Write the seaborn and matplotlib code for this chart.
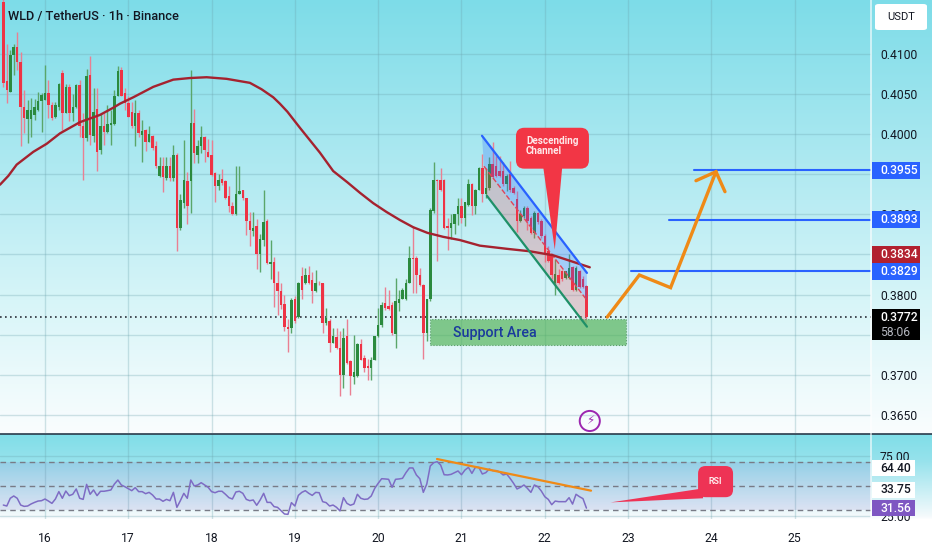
import numpy as np
import pandas as pd
import seaborn as sns
import matplotlib.pyplot as plt
from matplotlib.lines import Line2D
from matplotlib.patches import FancyBboxPatch, Polygon, Rectangle

# hourly candles, first one at day 15.5
opens = [.4165,.4066,.4053,.4099,.4109,.4090,.4034,.4019,.4019,.4024,.4030,.4041,.4043,.4051,.4037,.4022,.4034,.4076,.4027,.4059,
         .4027,.4034,.4061,.4010,.3995,.4074,.3998,.4031,.3980,.4010,.4003,.4012,.4013,.4048,.4080,.4051,.4039,.4028,.4010,.4026,
         .3999,.4005,.3990,.3998,.3985,.3948,.3960,.3945,.3960,.3945,.3974,.3883,.3914,.3941,.3941,.4014,.3974,.3985,.3997,.3978,
         .3974,.3951,.3936,.3944,.3942,.3923,.3910,.3900,.3926,.3930,.3920,.3892,.3879,.3885,.3850,.3868,.3892,.3838,.3841,.3815,
         .3805,.3788,.3760,.3758,.3794,.3772,.3823,.3815,.3825,.3818,.3804,.3815,.3814,.3765,.3767,.3740,.3747,.3733,.3700,.3748,
         .3717,.3697,.3698,.3738,.3721,.3711,.3708,.3719,.3748,.3762,.3790,.3786,.3787,.3751,.3790,.3795,.3794,.3815,.3846,.3846,
         .3825,.3812,.3752,.3794,.3904,.3943,.3943,.3943,.3886,.3883,.3888,.3900,.3910,.3895,.3912,.3938,.3910,.3931,.3958,.3925,
         .3933,.3963,.3960,.3954,.3954,.3938,.3950,.3933,.3919,.3892,.3898,.3908,.3896,.3877,.3902,.3892,.3873,.3854,.3848,.3815,
         .3825,.3829,.3821,.3821,.3835,.3806,.3830,.3819,.3811]
closes = [.4064,.4055,.4099,.4109,.4090,.4034,.4020,.4030,.4030,.4034,.4041,.4049,.4051,.4037,.4020,.4036,.4063,.4027,.4059,.4027,
          .4034,.4061,.4010,.3995,.4073,.3999,.4028,.3978,.4010,.4003,.4013,.4014,.4048,.4079,.4048,.4039,.4022,.4010,.4026,.4001,
          .4004,.3990,.4000,.3983,.3960,.3960,.3947,.3960,.3945,.3974,.3883,.3918,.3943,.3911,.4014,.3976,.3985,.3997,.3980,.3972,
          .3949,.3936,.3943,.3939,.3920,.3910,.3900,.3926,.3929,.3920,.3892,.3880,.3883,.3850,.3869,.3891,.3839,.3840,.3815,.3805,
          .3787,.3760,.3757,.3793,.3767,.3815,.3806,.3825,.3815,.3804,.3814,.3814,.3765,.3771,.3740,.3748,.3733,.3700,.3746,.3715,
          .3698,.3704,.3738,.3719,.3708,.3708,.3719,.3748,.3762,.3787,.3783,.3782,.3752,.3792,.3795,.3806,.3815,.3846,.3844,.3825,
          .3812,.3752,.3794,.3906,.3943,.3942,.3931,.3883,.3883,.3889,.3900,.3910,.3895,.3915,.3938,.3910,.3931,.3958,.3925,.3933,
          .3963,.3946,.3948,.3948,.3938,.3948,.3931,.3927,.3892,.3900,.3908,.3892,.3877,.3902,.3890,.3873,.3850,.3842,.3825,.3826,
          .3815,.3819,.3829,.3833,.3806,.3833,.3810,.3810,.3772]
highs = [.4185,.4113,.4105,.4113,.4127,.4103,.4055,.4043,.4045,.4044,.4052,.4051,.4086,.4068,.4040,.4040,.4064,.4080,.4062,.4062,
         .4050,.4063,.4068,.4026,.4081,.4098,.4057,.4057,.4026,.4026,.4036,.4030,.4055,.4085,.4084,.4058,.4048,.4040,.4042,.4030,
         .4018,.4007,.4010,.3999,.3992,.3972,.3972,.3972,.3972,.3987,.3977,.3926,.3993,.3953,.4080,.4031,.3993,.4010,.3998,.3994,
         .3993,.3953,.3950,.3956,.3943,.3935,.3915,.3960,.3960,.3931,.3921,.3903,.3903,.3894,.3876,.3931,.3894,.3868,.3847,.3830,
         .3815,.3800,.3769,.3796,.3798,.3816,.3835,.3833,.3836,.3828,.3831,.3817,.3815,.3783,.3770,.3758,.3758,.3754,.3758,.3769,
         .3718,.3750,.3739,.3745,.3725,.3720,.3722,.3748,.3783,.3791,.3810,.3806,.3791,.3821,.3806,.3808,.3820,.3860,.3885,.3848,
         .3833,.3813,.3795,.3908,.3965,.3944,.3958,.3944,.3895,.3900,.3900,.3921,.3921,.3916,.3944,.3939,.3932,.3959,.3975,.3958,
         .3971,.3990,.3973,.3973,.3965,.3950,.3967,.3935,.3929,.3906,.3910,.3910,.3898,.3904,.3903,.3894,.3875,.3860,.3852,.3844,
         .3832,.3831,.3830,.3850,.3836,.3836,.3831,.3823,.3812]
lows = [.4059,.4039,.4052,.4074,.4080,.3985,.4001,.3989,.3997,.4018,.4029,.4003,.4043,.4020,.4018,.4020,.4030,.4005,.4026,.4017,
        .4017,.4033,.3997,.3943,.3992,.3987,.3990,.3954,.3975,.3987,.4002,.3987,.4012,.4047,.4047,.4030,.4021,.4008,.3985,.3996,
        .3965,.3979,.3990,.3980,.3958,.3946,.3928,.3943,.3942,.3942,.3854,.3881,.3908,.3888,.3902,.3964,.3964,.3976,.3965,.3971,
        .3948,.3916,.3931,.3937,.3919,.3903,.3899,.3899,.3925,.3918,.3874,.3860,.3873,.3832,.3828,.3860,.3838,.3820,.3785,.3775,
        .3782,.3754,.3729,.3752,.3765,.3771,.3794,.3813,.3813,.3790,.3803,.3812,.3752,.3762,.3729,.3739,.3732,.3673,.3683,.3713,
        .3675,.3689,.3697,.3718,.3704,.3694,.3694,.3718,.3747,.3760,.3781,.3781,.3750,.3733,.3780,.3794,.3793,.3814,.3802,.3802,
        .3811,.3720,.3742,.3792,.3902,.3842,.3929,.3882,.3856,.3869,.3875,.3887,.3889,.3886,.3911,.3899,.3900,.3930,.3915,.3921,
        .3931,.3945,.3946,.3946,.3936,.3929,.3928,.3925,.3878,.3890,.3896,.3881,.3875,.3870,.3888,.3870,.3840,.3840,.3820,.3800,
        .3813,.3817,.3819,.3820,.3805,.3805,.3808,.3808,.3769]

rsi_values = [34.1,33.3,39.7,41.6,39.7,34.1,33.0,33.3,35.0,36.3,37.4,37.7,39.1,37.4,35.5,39.1,45.2,39.7,45.7,41.9,
              43.0,47.4,39.7,38.8,51.2,43.0,46.6,41.9,45.5,45.5,46.0,46.6,51.5,54.8,50.7,49.3,47.7,46.0,48.5,45.2,
              45.2,43.5,44.6,42.4,39.1,39.1,37.2,38.8,37.7,44.6,32.2,37.7,43.8,39.7,54.8,49.9,50.7,52.6,50.7,48.8,
              45.2,44.3,45.5,45.5,43.0,40.2,39.1,44.9,45.5,43.8,38.8,37.7,38.3,33.9,38.3,43.8,36.3,36.3,32.8,32.2,
              29.4,26.7,26.4,36.1,33.3,42.1,44.6,46.0,43.8,42.1,44.6,44.3,36.9,36.1,33.3,34.1,32.2,29.2,40.2,35.5,
              33.9,35.0,43.0,39.7,38.8,39.1,41.6,47.9,52.1,55.9,55.7,55.4,48.8,55.4,55.7,56.2,60.9,64.8,64.8,59.0,
              55.9,44.6,51.5,66.4,69.2,70.0,67.2,59.2,59.0,59.5,60.9,62.3,59.2,63.1,65.3,60.3,65.3,65.3,59.8,60.9,
              63.9,62.6,62.6,61.5,59.0,59.8,56.2,52.1,47.4,48.8,50.7,47.9,44.6,50.7,49.3,45.7,41.0,38.8,34.4,37.4,
              36.9,36.9,36.9,40.2,34.9,43.0,41.0,39.4,31.56]

ma_days = [15.46,15.56,15.66,15.86,16.02,16.18,16.42,16.66,16.82,16.9,17.06,17.30,17.54,17.74,17.94,18.18,18.46,18.6,18.74,18.82,18.91,19.06,19.30,19.46,19.63,19.78,19.94,20.1,20.26,20.42,20.59,20.78,20.98,21.22,21.55,21.82,22.10,22.54]
ma_prices = [.3937,.3948,.3962,.3978,.3988,.4001,.4015,.4024,.4033,.4038,.4046,.4059,.4068,.4070,.4071,.4069,.4064,.4056,.4046,.4038,.4028,.4008,.3977,.3954,.3940,.3927,.3914,.3903,.3893,.3884,.3877,.3872,.3868,.3861,.3857,.3854,.3849,.3834]

price_ticks = [.3650,.3700,.3750,.3800,.3850,.3900,.3950,.4000,.4050,.4100]
price_tick_labels = ["0.3650","0.3700","","0.3800","","0.3900","","0.4000","0.4050","0.4100"]
day_ticks = [16,17,18,19,20,21,22,23,24,25]
rsi_ticks = [75,25]
rsi_dashed = [70,50,30]

current_price = .3772
targets = [.3955,.3893,.3829]
target_starts = [23.79,23.49,23.03]

channel_top = ([21.246,22.506],[.3998,.3827])
channel_mid = ([21.27,22.506],[.3960,.3793])
channel_low = ([21.306,22.506],[.3923,.3760])

path_days = [22.75,23.135,23.51,24.055]
path_prices = [.3772,.38244,.38086,.39532]
arrow_days = [23.815,24.055,24.163]
arrow_prices = [.3942,.39532,.39283]

support_days = (20.62,22.975)
support_prices = (.3737,.3770)

rsi_trend_days = [20.706,22.555]
rsi_trend_values = [72.2,46.0]

RED = "#f23645"
BLUE = "#2962ff"
ORANGE = "#ef8a17"
DARK = "#131722"

# colours down the picture, top to bottom (pixel row, colour)
bg_rows = [0,200,300,433,434,460,516,519,550]
bg_cols = [(125,220,232),(185,236,243),(215,245,248),(250,253,254),(128,222,232),(150,226,236),(245,250,252),(255,255,255),(255,255,255)]

sns.set_theme(style="whitegrid")
plt.rcParams["font.family"] = ["Roboto", "DejaVu Sans"]
plt.rcParams["grid.color"] = "#6ba3ad"
plt.rcParams["grid.alpha"] = 0.3
plt.rcParams["grid.linewidth"] = 1.0

W, H = 932, 550
fig = plt.figure(figsize=(W / 100, H / 100), dpi=100, facecolor="white")

bg = fig.add_axes([0, 0, 1, 1], zorder=-1)
rows = np.arange(H)
img = np.stack([np.interp(rows, bg_rows, [c[k] for c in bg_cols]) for k in range(3)], axis=1) / 255
bg.imshow(img[:, None, :], aspect="auto", extent=[0, W, H, 0])
bg.axis("off")

ax = fig.add_axes([0, 1 - 433 / H, 871 / W, 433 / H], facecolor="none")
rs = fig.add_axes([0, 1 - 519 / H, 871 / W, 85 / H], facecolor="none", sharex=ax)

# candles
df = pd.DataFrame({"open": opens, "high": highs, "low": lows, "close": closes})
df["day"] = 15.5 + df.index / 24
df["rsi"] = rsi_values
up = df["close"] >= df["open"]
for mask, body, wick in [(up, "#2b8a3e", "#5aa66a"), (~up, "#ee3345", "#ea7f92")]:
    part = df[mask]
    ax.vlines(part["day"], part["low"], part["high"], color=wick, lw=1.0, zorder=3)
    ax.bar(part["day"], (part["close"] - part["open"]).abs(), bottom=part[["open", "close"]].min(axis=1),
           width=0.03, color=body, lw=0, zorder=4)

sns.lineplot(x=ma_days, y=ma_prices, ax=ax, color="#a5222f", lw=1.7, zorder=6, estimator=None, sort=False)
ax.axhline(current_price, color="#2a2e39", lw=1.2, ls=(0, (1, 2)), zorder=2)

# channel
top_x, top_y = channel_top
mid_x, mid_y = channel_mid
low_x, low_y = channel_low
ax.add_patch(Polygon(list(zip(top_x + mid_x[::-1], top_y + mid_y[::-1])), fc="#2962ff", alpha=0.25, lw=0, zorder=5))
ax.add_patch(Polygon(list(zip(mid_x + low_x[::-1], mid_y + low_y[::-1])), fc="#f23645", alpha=0.22, lw=0, zorder=5))
ax.plot(mid_x, mid_y, color="#e0455a", lw=1, ls="--", zorder=5)
ax.plot(top_x, top_y, color=BLUE, lw=1.6, zorder=6)
ax.plot(low_x, low_y, color="#1f9068", lw=1.6, zorder=6)

# support area
ax.add_patch(Rectangle((support_days[0], support_prices[0]), support_days[1] - support_days[0],
                       support_prices[1] - support_prices[0], fc="#4caf50", ec="#2c7a3c", alpha=0.65,
                       lw=0.8, ls=":", zorder=5))
ax.text(21.40, .37525, "Support Area", color="#1a3a9c", fontsize=10.3, fontweight="medium", ha="center", va="center", zorder=7)

# targets and projected path
for price, start in zip(targets, target_starts):
    ax.plot([start, 25.916], [price, price], color=BLUE, lw=1.5, zorder=5)
ax.plot(path_days, path_prices, color=ORANGE, lw=2.4, zorder=7, solid_joinstyle="miter")
ax.plot(arrow_days, arrow_prices, color=ORANGE, lw=2.4, zorder=7, solid_joinstyle="miter")

# callout
aspect = 83.3 / 8019
ax.add_patch(Polygon([(21.98, .3960), (22.21, .3960), (22.12, .3856)], fc=RED, lw=0, zorder=8))
ax.add_patch(FancyBboxPatch((21.654, .3957), 0.876, .0051, boxstyle="round,pad=0,rounding_size=0.1",
                            mutation_aspect=aspect, fc=RED, lw=0, zorder=8))
ax.text(21.775, .39855, "Descending\nChannel", color="#ffe9ea", fontsize=7.1, fontweight="bold", linespacing=1.05,
        ha="left", va="center", zorder=9)

# lightning badge
ax.scatter([22.54], [.36424], s=210, fc="none", ec="#9c27b0", lw=1.4, zorder=8)
ax.text(22.54, .36424, "\u26a1", color="#9c27b0", fontsize=8.5, family="DejaVu Sans", ha="center", va="center", zorder=9)

ax.set_xlim(15.46, 25.916)
ax.set_ylim(.36274, .41673)
ax.set_yticks(price_ticks, price_tick_labels)
ax.yaxis.tick_right()
ax.tick_params(axis="y", length=0, pad=6.5, labelsize=8.7, labelcolor=DARK)
ax.tick_params(axis="x", length=0, labelbottom=False)
ax.grid(True)
for s in ax.spines.values():
    s.set_visible(False)
ax.set_xlabel("")
ax.set_ylabel("")


def price_tag(axis, center, half, label, color, right=1.056, text_color="white"):
    trans = axis.get_yaxis_transform()
    axis.add_patch(Rectangle((1.001, center - half), right - 1.001, 2 * half, transform=trans, fc=color, lw=0,
                             clip_on=False, zorder=10))
    axis.text(1.0105, center, label, transform=trans, color=text_color, fontsize=8.7, fontweight="medium",
              ha="left", va="center", clip_on=False, zorder=11)


tag_half = .00106
price_tag(ax, .3955, tag_half, "0.3955", BLUE)
price_tag(ax, .3893, tag_half, "0.3893", BLUE)
price_tag(ax, .38503, tag_half, "0.3834", "#b2202f")
price_tag(ax, .3829, tag_half, "0.3829", BLUE)
# live price with countdown
trans = ax.get_yaxis_transform()
ax.add_patch(Rectangle((1.001, .37433), .055, .00387, transform=trans, fc="black", lw=0, clip_on=False, zorder=10))
ax.text(1.0105, .3772, "0.3772", transform=trans, color="white", fontsize=8.7, fontweight="medium",
        va="center", clip_on=False, zorder=11)
ax.text(1.0105, .37533, "58:06", transform=trans, color="#b5b8c0", fontsize=8.7, va="center", clip_on=False, zorder=11)

# RSI pane
rs.axhspan(30, 70, color="#7e57c2", alpha=0.13, lw=0, zorder=1)
for level in rsi_dashed:
    rs.axhline(level, color="#787b86", lw=1, ls=(0, (4, 3)), zorder=2)
sns.lineplot(data=df, x="day", y="rsi", ax=rs, color="#7e6cc4", lw=1.1, zorder=4)
rs.plot(rsi_trend_days, rsi_trend_values, color=ORANGE, lw=1.6, zorder=5)

rs_aspect = 83.3 / 1.21
rs.add_patch(Polygon([(22.79, 36.3), (23.90, 47.9), (23.90, 39.7)], fc="#ee3355", lw=0, zorder=6))
rs.add_patch(FancyBboxPatch((23.84, 40.6), 0.42, 25.8, boxstyle="round,pad=0,rounding_size=0.09",
                            mutation_aspect=rs_aspect, fc="#ee3355", lw=0, zorder=6))
rs.text(24.05, 53.5, "RSI", color="#ffe9ea", fontsize=6.4, fontweight="bold", ha="center", va="center", zorder=7)

rs.set_ylim(22.55, 92.9)
rs.set_yticks(rsi_ticks, ["75.00", "25.00"])
rs.yaxis.tick_right()
rs.tick_params(axis="y", length=0, pad=6.5, labelsize=8.7, labelcolor=DARK)
rs.set_xticks(day_ticks, [str(d) for d in day_ticks])
rs.tick_params(axis="x", length=0, pad=9, labelsize=8.7, labelcolor=DARK)
rs.set_xlabel("")
rs.set_ylabel("")
rs.grid(True)
for s in rs.spines.values():
    s.set_visible(False)
price_tag(rs, 64.4, 6.6, "64.40", "white", right=1.05, text_color=DARK)
price_tag(rs, 46.6, 6.6, "33.75", "white", right=1.05, text_color=DARK)
price_tag(rs, 31.56, 6.6, "31.56", "#7e57c2", right=1.05)

# frame bits
fig.add_artist(Line2D([0, 1], [1 - 433.5 / H] * 2, color="#2a3a4a", lw=1.2))
fig.add_artist(Line2D([870.5 / W] * 2, [1 - 519 / H, 1], color="white", alpha=0.7, lw=1.2))
fig.add_artist(FancyBboxPatch((875 / W, 1 - 30 / H), 52 / W, 26 / H, boxstyle="round,pad=0,rounding_size=0.004",
                              transform=fig.transFigure, fc="white", lw=0))
fig.text(901 / W, 1 - 17 / H, "USDT", color=DARK, fontsize=8, ha="center", va="center")
fig.text(8 / W, 1 - 16.5 / H, "WLD / TetherUS \u00b7 1h \u00b7 Binance", color=DARK, fontsize=9.2, fontweight="medium",
         ha="left", va="center")

fig.savefig("out.png", dpi=100)
